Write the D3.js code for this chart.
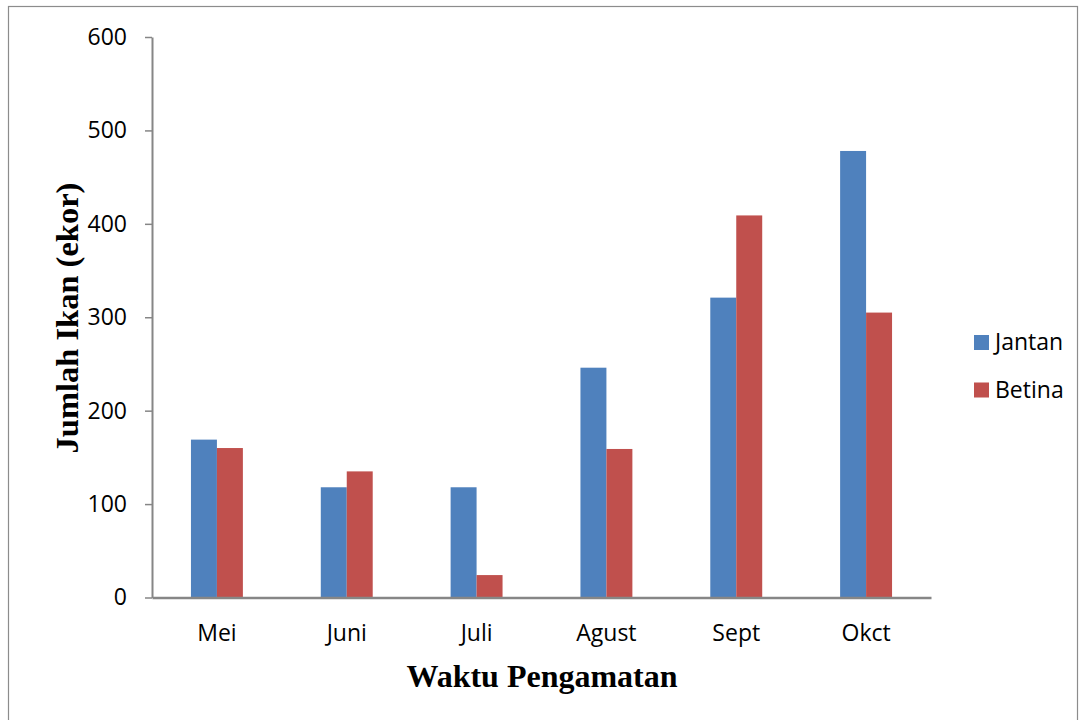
<!DOCTYPE html>
<html>
<head>
<meta charset="utf-8">
<script src="https://cdn.jsdelivr.net/npm/d3@7"></script>
<style>
  html, body { margin: 0; padding: 0; background: #fff; }
  svg { display: block; }
</style>
</head>
<body>
<svg id="chart" width="1083" height="720"></svg>
<script>
// --- Data ---
const months = ["Mei", "Juni", "Juli", "Agust", "Sept", "Okct"];
const series = ["Jantan", "Betina"];
const jantan = [169, 118, 118, 246, 321, 478];
const betina = [160, 135, 24, 159, 409, 305];
const yTicks = [0, 100, 200, 300, 400, 500, 600];

const COLORS = { Jantan: "#4F81BD", Betina: "#C0504D" };
const TICK_FONT = "'Open Sans', 'Noto Sans', sans-serif";
const TITLE_FONT = "'Liberation Serif', 'Times New Roman', serif";
const AXIS_GRAY = "#868686";

const svg = d3.select("#chart");

// outer frame
svg.append("rect")
  .attr("x", 8.5).attr("y", 6.5)
  .attr("width", 1069).attr("height", 730)
  .attr("fill", "none")
  .attr("stroke", "#8c8c8c")
  .attr("stroke-width", 1.2);

// --- Scales ---
const plot = { left: 152, right: 931, top: 37, bottom: 597.5 };

const x0 = d3.scaleBand()
  .domain(months)
  .range([plot.left, plot.right])
  .paddingInner(0).paddingOuter(0);

const x1 = d3.scaleBand()
  .domain(series)
  .range([0, x0.bandwidth()])
  .paddingInner(0).paddingOuter(1.5);

const y = d3.scaleLinear().domain([0, 600]).range([plot.bottom, plot.top]);

const rows = months.map((m, i) => ({ month: m, Jantan: jantan[i], Betina: betina[i] }));

// --- Bars ---
const groups = svg.append("g").attr("class", "bars")
  .selectAll("g")
  .data(rows)
  .join("g")
  .attr("transform", d => `translate(${x0(d.month)},0)`);

groups.selectAll("rect")
  .data(d => series.map(s => ({ key: s, value: d[s] })))
  .join("rect")
  .attr("x", d => x1(d.key))
  .attr("y", d => y(d.value))
  .attr("width", x1.bandwidth())
  .attr("height", d => y(0) - y(d.value))
  .attr("fill", d => COLORS[d.key]);

// --- Y axis ---
const yAxis = svg.append("g")
  .attr("transform", `translate(${plot.left},0)`)
  .call(d3.axisLeft(y).tickValues(yTicks).tickSize(7).tickPadding(18).tickSizeOuter(0));

yAxis.select(".domain").attr("stroke", AXIS_GRAY).attr("stroke-width", 2);
yAxis.selectAll(".tick line").attr("stroke", AXIS_GRAY).attr("stroke-width", 1.5);
yAxis.selectAll(".tick text")
  .attr("fill", "#000")
  .style("font-family", TICK_FONT)
  .style("font-size", "23px");

// --- X axis ---
const xAxis = svg.append("g")
  .attr("transform", `translate(0,${plot.bottom})`)
  .call(d3.axisBottom(x0).tickSize(0).tickPadding(27).tickSizeOuter(0));

xAxis.select(".domain").attr("stroke", AXIS_GRAY).attr("stroke-width", 2.5);
xAxis.selectAll(".tick text")
  .attr("fill", "#000")
  .style("font-family", TICK_FONT)
  .style("font-size", "23px");

// --- Axis titles ---
svg.append("text")
  .attr("x", 542)
  .attr("y", 687)
  .attr("text-anchor", "middle")
  .style("font-family", TITLE_FONT)
  .style("font-weight", "bold")
  .style("font-size", "32px")
  .text("Waktu Pengamatan");

svg.append("text")
  .attr("transform", "translate(78,318) rotate(-90)")
  .attr("text-anchor", "middle")
  .style("font-family", TITLE_FONT)
  .style("font-weight", "bold")
  .style("font-size", "32.5px")
  .text("Jumlah Ikan (ekor)");

// --- Legend ---
const legend = svg.append("g").attr("transform", "translate(974,335)");
const items = legend.selectAll("g")
  .data(series)
  .join("g")
  .attr("transform", (d, i) => `translate(0,${i * 47.5})`);

items.append("rect")
  .attr("width", 15).attr("height", 15)
  .attr("fill", d => COLORS[d]);

items.append("text")
  .attr("x", 21).attr("y", 15)
  .style("font-family", TICK_FONT)
  .style("font-size", "23px")
  .text(d => d);
</script>
</body>
</html>
